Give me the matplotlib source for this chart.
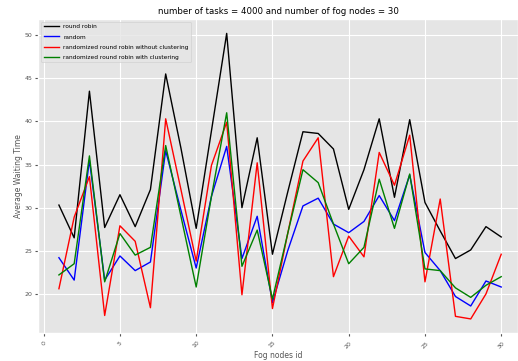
import matplotlib
matplotlib.use('Agg')
import matplotlib.pyplot as plt

plt.style.use('ggplot')

# ids of the fog nodes
nodos = list(range(1, 31))

# average waiting time per node, one list per algorithm
round_robin = [30.3, 26.5, 43.5, 27.7, 31.5, 27.8, 32.1, 45.5, 36.9, 27.6,
               38.9, 50.2, 30.0, 38.1, 24.6, 31.8, 38.8, 38.6, 36.8, 29.8,
               34.4, 40.3, 31.2, 40.2, 30.6, 27.3, 24.1, 25.1, 27.8, 26.6]
random_alg = [24.2, 21.6, 35.5, 21.6, 24.4, 22.7, 23.7, 36.6, 29.7, 23.0,
              31.3, 37.1, 24.1, 29.0, 19.0, 25.0, 30.2, 31.1, 28.1, 27.1,
              28.4, 31.4, 28.5, 33.8, 24.8, 22.7, 19.7, 18.6, 21.5, 20.8]
rr_sin_cluster = [20.6, 28.9, 33.6, 17.5, 27.9, 26.1, 18.4, 40.3, 32.1, 23.8,
                  34.9, 39.9, 19.9, 35.2, 18.3, 27.0, 35.4, 38.1, 22.0, 26.7,
                  24.3, 36.4, 32.6, 38.4, 21.4, 31.0, 17.4, 17.1, 20.0, 24.6]
rr_con_cluster = [22.2, 23.5, 36.0, 21.4, 27.0, 24.5, 25.4, 37.2, 29.0, 20.8,
                  31.3, 41.0, 23.2, 27.4, 19.4, 27.0, 34.4, 32.9, 28.1, 23.5,
                  25.4, 33.3, 27.6, 33.9, 22.9, 22.7, 20.7, 19.6, 21.0, 22.0]

fig = plt.figure(figsize=(5.18, 3.61), dpi=100)
ax = fig.add_axes([0.074, 0.077, 0.926, 0.870])

ax.plot(nodos, round_robin, color='black', linewidth=1, label='round robin')
ax.plot(nodos, random_alg, color='blue', linewidth=1, label='random')
ax.plot(nodos, rr_sin_cluster, color='red', linewidth=1,
        label='randomized round robin without clustering')
ax.plot(nodos, rr_con_cluster, color='green', linewidth=1,
        label='randomized round robin with clustering')

ax.set_xlim(-0.35, 31.1)
ax.set_xticks([0, 5, 10, 15, 20, 25, 30])
ax.set_yticks([20, 25, 30, 35, 40, 45, 50])
ax.tick_params(axis='x', labelsize=4.5, labelrotation=45, length=2, pad=3)
ax.tick_params(axis='y', labelsize=4.5, length=2, pad=2.5)

ax.set_title('number of tasks = 4000 and number of fog nodes = 30', fontsize=6.2, pad=4)
ax.set_xlabel('Fog nodes id', fontsize=5.5, labelpad=1)
ax.set_ylabel('Average Waiting Time', fontsize=5.5, labelpad=1)

ax.legend(loc='upper left', fontsize=4.2, labelspacing=0.85,
          handlelength=2.6, framealpha=0.8)

plt.savefig('out.png', dpi=100)
